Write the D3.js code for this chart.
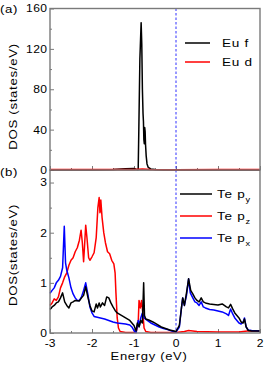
<!DOCTYPE html>
<html>
<head>
<meta charset="utf-8">
<script src="https://cdn.jsdelivr.net/npm/d3@7"></script>
<style>
  body { margin: 0; background: #fff; }
  svg { display: block; font-family: Arial, "Liberation Sans", sans-serif; }
</style>
</head>
<body>
<svg id="chart" width="267" height="368"></svg>
<script>
// energy ticks shared by both panels
const energyTicks = [-3, -2, -1, 0, 1, 2];
const topTicks = [0, 40, 80, 120, 160];
const bottomTicks = [0, 1, 2, 3];

// panel (a): Eu f / Eu d  [energy, DOS]
const euF = [[-3, 0.3], [-2, 0.3], [-1.5, 0.6], [-1.2, 1.2], [-1.0, 1.6], [-0.95, 0.8], [-0.9, 0.5],
  [-0.885, 40], [-0.86, 110], [-0.83, 146], [-0.815, 125], [-0.8, 80], [-0.785, 56], [-0.775, 48],
  [-0.765, 30], [-0.755, 26], [-0.745, 42], [-0.735, 38], [-0.725, 25], [-0.71, 14], [-0.69, 6],
  [-0.66, 2.5], [-0.6, 1], [-0.5, 0.5], [-0.3, 0.3], [0, 0.2], [2, 0.2]];
const euD = [[-3, 0.4], [-2, 0.5], [-1, 0.6], [-0.8, 1.0], [-0.6, 0.5], [0, 0.3], [1, 0.4], [2, 0.4]];

// panel (b): Te p orbitals  [energy, DOS]
const tePy = [[-3, 0.47], [-2.95, 0.52], [-2.9, 0.55], [-2.85, 0.6], [-2.8, 0.62], [-2.75, 0.7], [-2.7, 0.8],
  [-2.65, 0.62], [-2.6, 0.55], [-2.55, 0.5], [-2.5, 0.6], [-2.45, 0.62], [-2.4, 0.65], [-2.3, 0.64],
  [-2.25, 0.7], [-2.2, 0.75], [-2.15, 0.92], [-2.1, 0.72], [-2.05, 0.55], [-2.0, 0.44], [-1.95, 0.42],
  [-1.9, 0.58], [-1.87, 0.5], [-1.83, 0.6], [-1.8, 0.52], [-1.75, 0.6], [-1.7, 0.55], [-1.65, 0.72],
  [-1.6, 0.7], [-1.55, 0.6], [-1.5, 0.52], [-1.45, 0.45], [-1.4, 0.4], [-1.3, 0.35], [-1.2, 0.3],
  [-1.1, 0.25], [-1.0, 0.15], [-0.95, 0.04], [-0.92, 0.2], [-0.88, 0.12], [-0.84, 0.25], [-0.8, 0.2],
  [-0.77, 1.0], [-0.75, 0.35], [-0.72, 0.28], [-0.65, 0.26], [-0.55, 0.22], [-0.45, 0.17],
  [-0.35, 0.12], [-0.25, 0.09], [-0.15, 0.06], [0, 0.03], [0.08, 0.15], [0.13, 0.5], [0.16, 0.7],
  [0.2, 0.55], [0.25, 0.8], [0.3, 1.08], [0.35, 0.85], [0.4, 0.78], [0.45, 0.7], [0.5, 0.65],
  [0.55, 0.62], [0.6, 0.7], [0.65, 0.62], [0.7, 0.6], [0.8, 0.58], [0.9, 0.57], [1.0, 0.56],
  [1.1, 0.58], [1.2, 0.52], [1.25, 0.5], [1.3, 0.57], [1.35, 0.48], [1.4, 0.4], [1.5, 0.3],
  [1.55, 0.22], [1.6, 0.2], [1.63, 0.28], [1.67, 0.12], [1.72, 0.05], [1.8, 0.04], [2, 0.04]];
const tePz = [[-3, 0.55], [-2.95, 0.6], [-2.9, 0.68], [-2.85, 0.65], [-2.8, 0.72], [-2.75, 0.9],
  [-2.7, 1.0], [-2.65, 1.12], [-2.6, 1.2], [-2.55, 1.35], [-2.5, 1.45], [-2.45, 1.5], [-2.4, 1.62],
  [-2.35, 1.7], [-2.3, 1.85], [-2.26, 2.05], [-2.23, 1.8], [-2.2, 1.42], [-2.18, 1.7], [-2.15, 2.15],
  [-2.12, 1.9], [-2.08, 1.5], [-2.05, 1.45], [-2.0, 1.52], [-1.95, 1.6], [-1.9, 1.9], [-1.86, 2.5],
  [-1.83, 2.7], [-1.81, 2.4], [-1.79, 2.65], [-1.76, 2.3], [-1.72, 2.0], [-1.68, 1.8], [-1.63, 1.62],
  [-1.58, 1.58], [-1.53, 1.45], [-1.48, 1.38], [-1.45, 1.2], [-1.43, 0.8], [-1.4, 0.3], [-1.37, 0.1],
  [-1.33, 0.03], [-1.2, 0.01], [-0.95, 0.01], [-0.9, 0.2], [-0.88, 0.65], [-0.85, 0.5], [-0.82, 0.65],
  [-0.79, 0.4], [-0.76, 0.1], [-0.72, 0.03], [-0.6, 0.01], [0, 0.01], [0.2, 0.03], [0.3, 0.05],
  [0.5, 0.03], [1.0, 0.02], [1.5, 0.02], [1.7, 0.04], [2, 0.04]];
const tePx = [[-3, 0.79], [-2.95, 0.85], [-2.9, 0.9], [-2.85, 1.0], [-2.8, 1.05], [-2.75, 1.13],
  [-2.7, 1.3], [-2.66, 2.13], [-2.63, 1.4], [-2.6, 1.25], [-2.55, 1.1], [-2.5, 0.9], [-2.45, 0.78],
  [-2.4, 0.7], [-2.35, 0.65], [-2.3, 0.65], [-2.25, 0.72], [-2.2, 0.85], [-2.15, 1.0], [-2.1, 0.78],
  [-2.05, 0.52], [-2.0, 0.4], [-1.95, 0.33], [-1.9, 0.32], [-1.8, 0.3], [-1.7, 0.28], [-1.6, 0.25],
  [-1.5, 0.22], [-1.4, 0.2], [-1.3, 0.19], [-1.2, 0.18], [-1.1, 0.16], [-1.05, 0.12], [-0.98, 0.02],
  [-0.95, 0.01], [-0.9, 0.25], [-0.87, 0.15], [-0.84, 0.3], [-0.8, 0.4], [-0.76, 0.3], [-0.7, 0.26],
  [-0.6, 0.2], [-0.5, 0.16], [-0.4, 0.12], [-0.3, 0.09], [-0.2, 0.07], [-0.1, 0.04], [0, 0.02],
  [0.08, 0.12], [0.13, 0.5], [0.16, 0.7], [0.2, 0.55], [0.25, 0.75], [0.3, 1.08], [0.34, 0.8],
  [0.4, 0.7], [0.45, 0.62], [0.5, 0.6], [0.55, 0.55], [0.6, 0.62], [0.65, 0.52], [0.7, 0.5],
  [0.8, 0.47], [0.9, 0.46], [1.0, 0.44], [1.1, 0.42], [1.2, 0.38], [1.25, 0.35], [1.3, 0.48],
  [1.35, 0.38], [1.4, 0.3], [1.5, 0.2], [1.55, 0.18], [1.6, 0.22], [1.63, 0.3], [1.67, 0.12],
  [1.72, 0.06], [1.8, 0.05], [2, 0.04]];

const svg = d3.select('#chart');
const plotLeft = 50, plotRight = 260, plotTop = 8.5, plotMid = 170, plotBottom = 333;
const frameColor = '#7a7a7a';
const stretch = 1.15; // the original lettering is wider than Arial

const x = d3.scaleLinear().domain([-3, 2]).range([plotLeft, plotRight]);
const yTop = d3.scaleLinear().domain([0, 160]).range([plotMid, plotTop]);
const yBot = d3.scaleLinear().domain([0, 3.25]).range([plotBottom, plotMid]);

// text placed at (tx, ty), widened along its own direction
function label(str, tx, ty, size, anchor, rotate) {
  return svg.append('text')
    .attr('transform', `translate(${tx},${ty})` + (rotate ? ` rotate(${rotate})` : '') + ` scale(${stretch},1)`)
    .attr('text-anchor', anchor || 'start')
    .attr('font-size', size)
    .attr('letter-spacing', 0.6)
    .text(str);
}

function drawPanel(y, yTicks, yMinor, series, showXLabels) {
  const [y0, y1] = y.range();
  const g = svg.append('g');

  // inward ticks: left
  g.append('g').attr('transform', `translate(${plotLeft},0)`)
    .call(d3.axisRight(y).tickValues(yTicks).tickSize(4).tickFormat(''));
  g.append('g').attr('transform', `translate(${plotLeft},0)`)
    .call(d3.axisRight(y).tickValues(yMinor).tickSize(2).tickFormat(''));
  // inward ticks: bottom
  g.append('g').attr('transform', `translate(0,${y0})`)
    .call(d3.axisTop(x).tickValues(energyTicks).tickSize(4).tickFormat(''));
  g.append('g').attr('transform', `translate(0,${y0})`)
    .call(d3.axisTop(x).tickValues(d3.range(-2.5, 2, 1)).tickSize(2).tickFormat(''));
  g.selectAll('.domain').remove();
  g.selectAll('.tick line').attr('stroke', frameColor).attr('stroke-width', 1);

  // y tick labels
  g.selectAll('.ylab').data(yTicks).join('text')
    .attr('transform', d => `translate(${plotLeft - 2.5},${y(d)}) scale(1.12,1)`)
    .attr('dy', '0.36em').attr('text-anchor', 'end').attr('font-size', 10.8)
    .attr('letter-spacing', 0.4).text(d => d);

  if (showXLabels) {
    g.selectAll('.xlab').data(energyTicks).join('text')
      .attr('transform', d => `translate(${x(d)},${y0 + 14}) scale(1.12,1)`)
      .attr('text-anchor', 'middle').attr('font-size', 10.8)
      .text(d => d < 0 ? '-' + Math.abs(d) : d);
  }

  // Fermi level
  g.append('line').attr('x1', x(0)).attr('x2', x(0)).attr('y1', y1).attr('y2', y0)
    .attr('stroke', '#3030ff').attr('stroke-width', 1).attr('stroke-dasharray', '2.5,2');

  const line = d3.line().x(d => x(d[0])).y(d => y(d[1]));
  series.forEach(s => {
    g.append('path').datum(s.data).attr('d', line)
      .attr('fill', 'none').attr('stroke', s.color).attr('stroke-width', 1.5)
      .attr('stroke-linejoin', 'round');
  });

  // frame
  g.append('rect').attr('x', plotLeft).attr('y', y1).attr('width', plotRight - plotLeft).attr('height', y0 - y1)
    .attr('fill', 'none').attr('stroke', frameColor).attr('stroke-width', 1.4);
  return g;
}

// bottom panel first so the top panel's red baseline sits over the shared edge
drawPanel(yBot, bottomTicks, [0.5, 1.5, 2.5], [
  { data: tePz, color: '#ff0000' },
  { data: tePx, color: '#0000ff' },
  { data: tePy, color: '#000000' },
], true);
drawPanel(yTop, topTicks, [20, 60, 100, 140], [
  { data: euF, color: '#000000' },
  { data: euD, color: '#ff0000' },
], false);

// legends
function legend(items, x0, len, gap, ys) {
  items.forEach((it, i) => {
    const yy = ys[i];
    svg.append('line').attr('x1', x0).attr('x2', x0 + len).attr('y1', yy).attr('y2', yy)
      .attr('stroke', it.color).attr('stroke-width', 1.5);
    const t = label(it.label, x0 + len + gap, yy, 11.8).attr('dy', '0.36em');
    if (it.sub) {
      t.append('tspan').attr('font-size', 8).attr('dy', '0.5em').text(it.sub);
    }
  });
}
legend([{ label: 'Eu f', color: '#000' }, { label: 'Eu d', color: '#ff0000' }], 185, 25, 12, [43, 62]);
legend([
  { label: 'Te p', sub: 'y', color: '#000' },
  { label: 'Te p', sub: 'z', color: '#ff0000' },
  { label: 'Te p', sub: 'x', color: '#0000ff' },
], 180, 32, 5, [194, 216, 238]);

// axis titles and panel labels
label('DOS (states/eV)', 17, 96.5, 11.5, 'middle', -90);
label('DOS(states/eV)', 17, 255, 11.5, 'middle', -90);
label('Energy (eV)', 149, 359.5, 11.3, 'middle');
label('(a)', 0, 13, 11.5);
label('(b)', 0, 175.5, 11.5);
</script>
</body>
</html>
